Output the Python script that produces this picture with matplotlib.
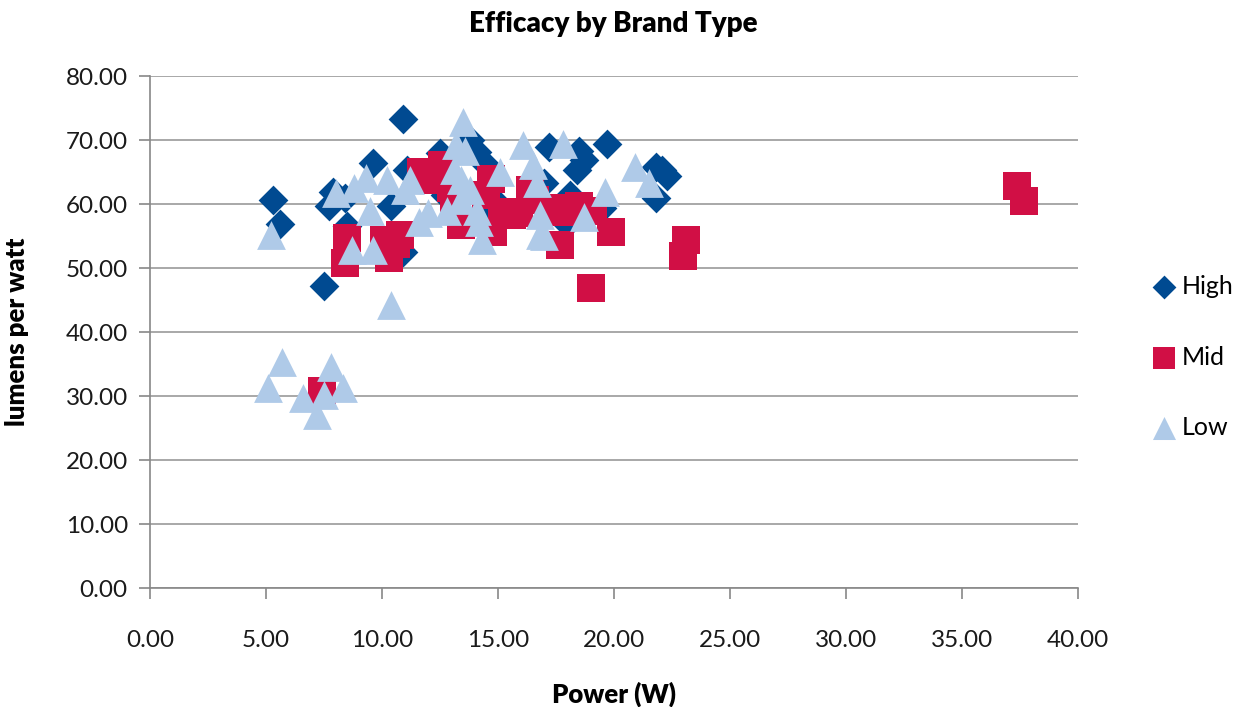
import numpy as np
import matplotlib.pyplot as plt

# dados (potência W, lúmens por watt)
high_x = [5.3, 5.6, 7.9, 7.7, 7.5, 8.5, 9.6, 10.9, 10.9, 10.4, 11.1, 12.5, 12.7, 14.1,
          14.4, 17.2, 18.5, 18.7, 18.4, 19.7, 22.1, 21.8, 21.8, 22.3, 19.5, 18.0, 15.0,
          17.0, 18.1, 14.7, 13.8, 8.4]
high_y = [60.6, 56.9, 61.9, 59.8, 47.2, 56.6, 66.4, 73.4, 52.5, 59.8, 65.3, 68.0, 61.4, 68.1,
          66.4, 68.9, 68.4, 66.9, 65.3, 69.5, 65.3, 61.0, 65.8, 64.5, 59.5, 57.0, 60.0,
          63.4, 61.4, 58.6, 70.0, 61.0]

mid_x = [7.4, 8.4, 8.5, 10.1, 10.3, 10.8, 10.6, 11.7, 12.1, 12.6, 13.0, 13.4, 13.1, 14.7,
         14.5, 14.8, 15.2, 15.6, 15.9, 16.4, 16.6, 17.7, 17.9, 18.5, 19.1, 17.7, 19.0,
         19.9, 23.1, 23.0, 37.4, 37.7]
mid_y = [30.9, 50.9, 54.7, 54.4, 51.6, 55.2, 53.8, 65.0, 63.8, 66.1, 62.5, 56.7, 59.8, 64.0,
         61.4, 55.6, 58.8, 58.4, 58.6, 62.2, 60.6, 59.4, 58.8, 59.8, 59.0, 53.6, 47.0,
         55.6, 54.4, 52.0, 62.8, 60.5]

low_x = [5.2, 5.1, 5.7, 6.6, 7.2, 7.5, 7.8, 8.3, 8.0, 8.7, 8.8, 9.3, 9.5, 9.6, 10.2, 10.4,
         11.0, 11.2, 11.6, 12.0, 13.2, 13.5, 13.6, 13.1, 13.4, 13.8, 13.4, 12.8, 14.1,
         14.2, 14.3, 15.1, 16.1, 16.5, 16.7, 16.8, 16.8, 17.0, 17.8, 18.7, 19.6, 20.9, 21.5]
low_y = [55.2, 31.3, 35.3, 29.8, 27.0, 30.2, 34.5, 31.3, 61.7, 52.8, 62.5, 64.1, 59.0, 52.8,
         63.8, 44.2, 62.2, 63.8, 57.2, 58.6, 69.2, 72.8, 68.4, 65.3, 63.8, 62.2, 60.6, 59.0,
         59.0, 57.2, 54.4, 65.0, 69.2, 66.1, 63.4, 58.3, 55.2, 55.0, 69.5, 58.0, 61.9,
         65.8, 63.4]

c_high = '#004a91'
c_mid = '#d10f45'
c_low = '#afcae8'

plt.rcParams['font.family'] = ['Lato', 'DejaVu Sans']

fig = plt.figure(figsize=(12.4, 7.07), dpi=100)
ax = fig.add_axes([0.121, 0.168, 0.748, 0.724])

ax.scatter(high_x, high_y, marker='D', s=230, color=c_high, linewidths=0, label='High', zorder=3)
ax.scatter(mid_x, mid_y, marker='s', s=380, color=c_mid, linewidths=0, label='Mid', zorder=4)
ax.scatter(low_x, low_y, marker='^', s=430, color=c_low, linewidths=0, label='Low', zorder=5)

ax.set_xlim(0, 40)
ax.set_ylim(0, 80)
ax.set_xticks(np.arange(0, 41, 5))
ax.set_yticks(np.arange(0, 81, 10))
ax.set_xticklabels(['%.2f' % v for v in np.arange(0, 41, 5)])
ax.set_yticklabels(['%.2f' % v for v in np.arange(0, 81, 10)])
ax.yaxis.grid(True, color='#9a9a9a', linewidth=1.2)
ax.set_axisbelow(True)
for s in ['top', 'right']:
    ax.spines[s].set_visible(False)
for s in ['left', 'bottom']:
    ax.spines[s].set_color('#888888')
    ax.spines[s].set_linewidth(1.2)
ax.tick_params(axis='both', direction='out', length=8, width=1.2, color='#888888',
               labelsize=17.5, colors='#1a1a1a', pad=8)
ax.tick_params(axis='x', pad=22)

ax.set_title('Efficacy by Brand Type', fontsize=20, fontweight='heavy', pad=32)
ax.set_xlabel('Power (W)', fontsize=18.5, fontweight='heavy', labelpad=22)
ax.set_ylabel('lumens per watt', fontsize=18.5, fontweight='heavy', labelpad=26)

ax.legend(loc='center left', bbox_to_anchor=(0.927, 0.495), bbox_transform=fig.transFigure,
          frameon=False, fontsize=18, borderaxespad=0, borderpad=0,
          labelspacing=1.9, handletextpad=0.1, markerscale=0.8, handlelength=1.2)

plt.savefig('out.png')
